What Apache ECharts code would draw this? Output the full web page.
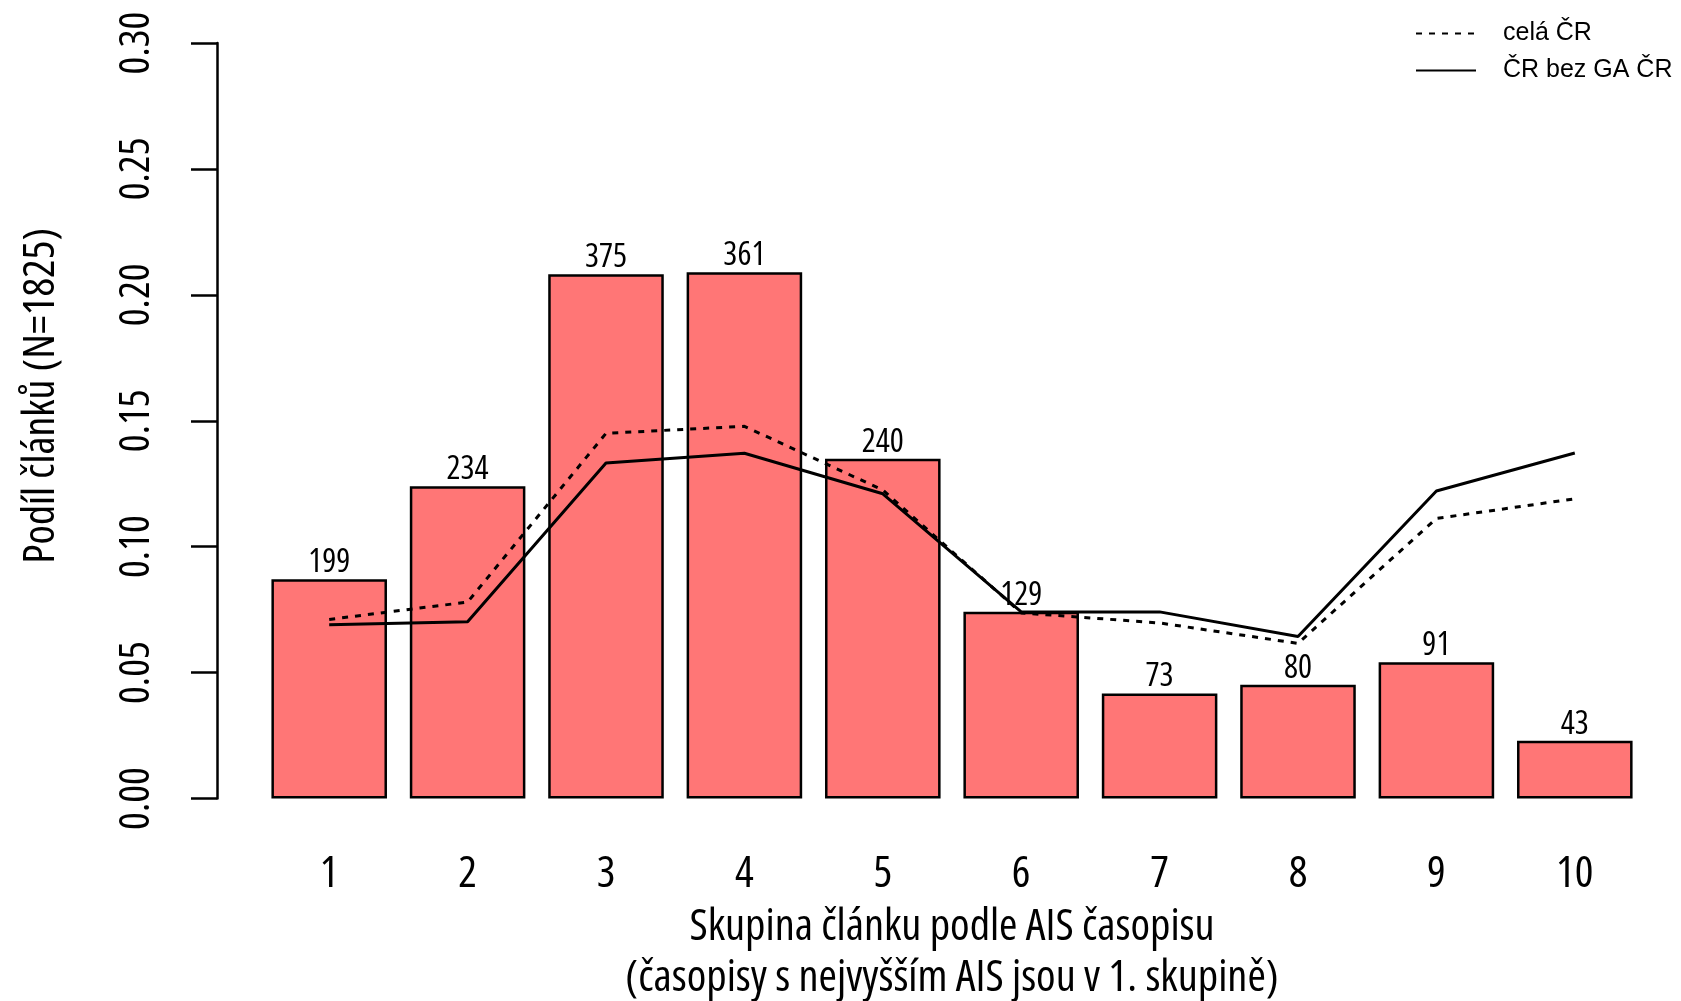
<!DOCTYPE html>
<html>
<head>
<meta charset="utf-8">
<script src="https://cdn.jsdelivr.net/npm/echarts@6/dist/echarts.min.js"></script>
<style>
  html, body { margin: 0; padding: 0; background: #fff; }
  #chart { width: 1681px; height: 1001px; }
</style>
</head>
<body>
<div id="chart"></div>
<script>
const categories = ['1', '2', '3', '4', '5', '6', '7', '8', '9', '10'];
const shares = [0.0871, 0.1240, 0.2082, 0.2090, 0.1349, 0.0742, 0.0417, 0.0452, 0.0541, 0.0229];
const counts = [199, 234, 375, 361, 240, 129, 73, 80, 91, 43];
const celaCR = [0.0711, 0.0780, 0.1450, 0.1478, 0.1225, 0.0737, 0.0697, 0.0616, 0.1112, 0.1190];
const bezGA = [0.0690, 0.0702, 0.1332, 0.1371, 0.1210, 0.0741, 0.0741, 0.0643, 0.1221, 0.1372];
const yTicks = ['0.00', '0.05', '0.10', '0.15', '0.20', '0.25', '0.30'];
const seriesNames = ['celá ČR', 'ČR bez GA ČR'];

const regular = "'Liberation Sans', Arial, sans-serif";
const narrow = "'Open Sans', sans-serif";
const stretch = 'condensed';

const chart = echarts.init(document.getElementById('chart'), null, { renderer: 'canvas' });
chart.setOption({
  animation: false,
  backgroundColor: '#ffffff',
  grid: { left: 260, width: 1384, top: 43, bottom: 202.5, containLabel: false, outerBoundsMode: 'none' },
  legend: {
    data: seriesNames,
    orient: 'vertical',
    left: 1410,
    top: 16,
    itemWidth: 60,
    itemHeight: 14,
    itemGap: 12,
    itemStyle: { opacity: 0 },
    textStyle: { fontFamily: regular, fontSize: 25, color: '#000', padding: [0, 0, 0, 22] }
  },
  xAxis: {
    type: 'category',
    data: categories,
    boundaryGap: true,
    axisLine: { show: false },
    axisTick: { show: false },
    axisLabel: { margin: 54, fontFamily: narrow, fontWeight: stretch, fontSize: 44, color: '#000' },
    name: 'Skupina článku podle AIS časopisu\n(časopisy s nejvyšším AIS jsou v 1. skupině)',
    nameLocation: 'middle',
    nameGap: 103,
    nameTextStyle: { fontFamily: narrow, fontWeight: stretch, fontSize: 44.5, color: '#000', lineHeight: 51 }
  },
  yAxis: {
    type: 'value',
    min: 0,
    max: 0.3,
    interval: 0.05,
    offset: 43,
    axisLine: { show: true, lineStyle: { color: '#000', width: 2.5 } },
    axisTick: { show: true, length: 26, lineStyle: { color: '#000', width: 2.5 } },
    splitLine: { show: false },
    axisLabel: {
      rotate: 90,
      margin: 59,
      fontFamily: narrow,
      fontWeight: stretch,
      fontSize: 42,
      color: '#000',
      formatter: function (v) { return yTicks[Math.round(v / 0.05)]; }
    },
    name: 'Podíl článků (N=1825)',
    nameLocation: 'middle',
    nameRotate: 90,
    nameGap: 154,
    nameTextStyle: { fontFamily: narrow, fontWeight: stretch, fontSize: 44, color: '#000', padding: [0, 0, 0, 50] }
  },
  series: [
    {
      type: 'bar',
      name: 'podíl',
      data: shares,
      barWidth: '83.5%',
      itemStyle: { color: '#FF7676', borderColor: '#000', borderWidth: 2.5 },
      label: {
        show: true,
        position: 'top',
        distance: 0,
        fontFamily: narrow,
        fontWeight: stretch,
        fontSize: 33,
        lineHeight: 33,
        color: '#000',
        formatter: function (p) { return String(counts[p.dataIndex]); }
      },
      z: 2
    },
    {
      type: 'line',
      name: seriesNames[0],
      data: celaCR,
      symbol: 'none',
      lineStyle: { color: '#000', width: 3, type: [6, 7] },
      itemStyle: { color: '#000' },
      z: 3
    },
    {
      type: 'line',
      name: seriesNames[1],
      data: bezGA,
      symbol: 'none',
      lineStyle: { color: '#000', width: 3, type: 'solid' },
      itemStyle: { color: '#000' },
      z: 3
    }
  ]
});
</script>
</body>
</html>
